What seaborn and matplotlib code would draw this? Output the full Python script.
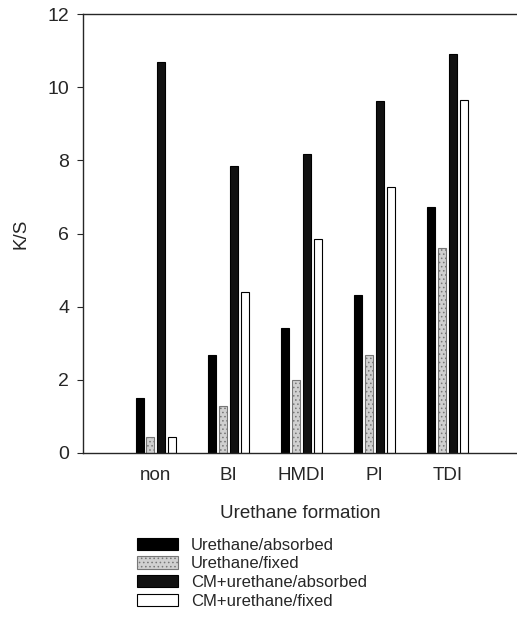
import matplotlib
matplotlib.use("Agg")
import matplotlib.pyplot as plt
import seaborn as sns
import pandas as pd
from matplotlib.patches import Patch

categories = ["non", "BI", "HMDI", "PI", "TDI"]
series_names = ["Urethane/absorbed", "Urethane/fixed", "CM+urethane/absorbed", "CM+urethane/fixed"]
urethane_absorbed = [1.5, 2.68, 3.41, 4.32, 6.72]
urethane_fixed = [0.44, 1.28, 2.0, 2.68, 5.6]
cm_absorbed = [10.68, 7.84, 8.17, 9.62, 10.9]
cm_fixed = [0.44, 4.4, 5.85, 7.27, 9.64]
yticks = [0, 2, 4, 6, 8, 10, 12]

rows = []
for name, vals in zip(series_names, [urethane_absorbed, urethane_fixed, cm_absorbed, cm_fixed]):
    for c, v in zip(categories, vals):
        rows.append({"cat": c, "series": name, "val": v})
df = pd.DataFrame(rows)

sns.set_style("ticks")
plt.rcParams["font.family"] = ["Liberation Sans", "DejaVu Sans"]
plt.rcParams["hatch.color"] = "#8a8a8a"
plt.rcParams["hatch.linewidth"] = 0.6

fig = plt.figure(figsize=(5.17, 6.23), dpi=100)
ax = fig.add_axes([0.1605, 0.2729, 0.8395, 0.7046])

face = ["#000000", "#d0d0d0", "#111111", "#ffffff"]
edges = ["black", "#777777", "black", "black"]
hatches = [None, "....", None, None]
sns.barplot(data=df, x="cat", y="val", hue="series", order=categories,
            hue_order=series_names, palette=face, width=0.6, gap=0.27,
            saturation=1, legend=False, ax=ax, edgecolor="black", linewidth=0.8)
for i, cont in enumerate(ax.containers):
    for p in cont.patches:
        p.set_facecolor(face[i])
        p.set_edgecolor(edges[i])
        if hatches[i]:
            p.set_hatch(hatches[i])

ax.set_xlim(-1, 4.95)
ax.set_ylim(0, 12)
ax.set_yticks(yticks)
ax.set_yticklabels([str(t) for t in yticks], fontsize=14)
ax.tick_params(axis="x", length=0, labelsize=13.5, pad=10)
ax.tick_params(axis="y", length=4, width=0.8, direction="out", pad=6)
for s in ["left", "bottom", "top"]:
    ax.spines[s].set_visible(True)
    ax.spines[s].set_linewidth(1.0)
ax.spines["right"].set_visible(False)
ax.set_xlabel("Urethane formation", fontsize=13.5, labelpad=15)
ax.set_ylabel("K/S", fontsize=13.5, labelpad=13)

handles = []
for i, n in enumerate(series_names):
    handles.append(Patch(facecolor=face[i], edgecolor=edges[i],
                         hatch=hatches[i], linewidth=0.8, label=n))
fig.legend(handles=handles, loc="upper left", bbox_to_anchor=(130 / 517, 1 - 531 / 623),
           frameon=False, fontsize=12, handlelength=2.5, handleheight=0.75,
           labelspacing=0.22, handletextpad=0.75, borderaxespad=0)

fig.savefig("out.png", dpi=100)
